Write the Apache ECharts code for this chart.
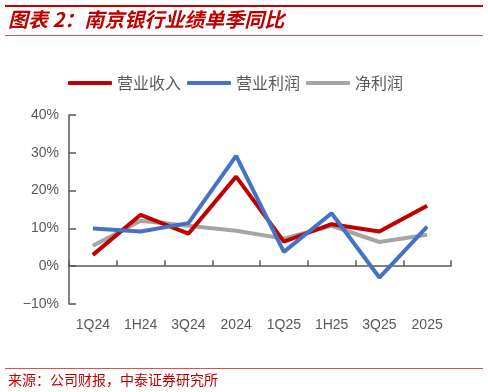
<!DOCTYPE html>
<html><head><meta charset="utf-8">
<script src="https://cdn.jsdelivr.net/npm/echarts@6/dist/echarts.min.js"></script>
<style>html,body{margin:0;padding:0;background:#fff}#c{width:488px;height:392px}</style>
</head><body><div id="c"></div>
<script>
var categories = ['1Q24','1H24','3Q24','2024','1Q25','1H25','3Q25','2025'];
var revenue = [3.0, 13.6, 8.6, 23.7, 6.5, 11.1, 9.2, 16.0];
var opProfit = [10.0, 9.2, 11.4, 29.2, 3.8, 14.0, -3.0, 10.5];
var netProfit = [5.4, 12.0, 10.7, 9.4, 7.3, 10.7, 6.4, 8.3];
var yTicks = [-10, 0, 10, 20, 30, 40];
var seriesNames = ['营业收入', '营业利润', '净利润'];
var colors = ['#C00000', '#4472C4', '#A5A5A5'];

var chart = echarts.init(document.getElementById('c'));
var font = '"Noto Sans CJK SC",sans-serif';
var mk = function(name, data, color){
  return {name:name, type:'line', data:data, symbol:'none', smooth:false,
    lineStyle:{width:4, color:color}, itemStyle:{color:color}, z:color==='#A5A5A5'?1:2};
};
chart.setOption({
  animation:false,
  textStyle:{fontFamily:font},
  graphic:[
    {type:'rect', shape:{x:5,y:5,width:478,height:2}, style:{fill:'#C00000'}},
    {type:'text', left:8, top:9, style:{text:'图表 2：南京银行业绩单季同比', fill:'#C00000', font:'italic bold 20px "Noto Sans CJK SC", sans-serif'}},
    {type:'rect', shape:{x:5,y:35,width:478,height:1}, style:{fill:'#D9534F'}},
    {type:'rect', shape:{x:5,y:368,width:478,height:1}, style:{fill:'#D9534F'}},
    {type:'text', left:8, top:373, style:{text:'来源：公司财报，中泰证券研究所', fill:'#C00000', font:'14px "Noto Sans CJK SC", serif'}}
  ],
  legend:{
    top:70, left:63, itemWidth:44, itemHeight:4, itemGap:6,
    icon:'roundRect',
    textStyle:{color:'#595959', fontSize:16, fontFamily:'"Noto Sans CJK SC", serif'},
    data:seriesNames
  },
  grid:{left:69, right:37, top:115, bottom:88, containLabel:false},
  xAxis:{
    type:'category', data:categories, boundaryGap:true,
    axisLine:{onZero:true, lineStyle:{color:'#595959', width:1.5}},
    axisTick:{show:true, inside:true, length:6, lineStyle:{color:'#595959', width:1.5}},
    axisLabel:{color:'#595959', fontSize:14, fontFamily:'Arial, "Liberation Sans", sans-serif', margin:14}
  },
  yAxis:{
    type:'value', min:yTicks[0], max:yTicks[yTicks.length-1], interval:10,
    axisLine:{show:true, lineStyle:{color:'#595959', width:1.5}},
    axisTick:{show:true, inside:true, length:7, lineStyle:{color:'#595959', width:1.5}},
    splitLine:{show:false},
    axisLabel:{color:'#595959', fontSize:14, fontFamily:'Arial, "Liberation Sans", sans-serif',
      formatter:function(v){return (v<0?'−'+Math.abs(v):v)+'%';}, margin:10}
  },
  series:[
    mk(seriesNames[0], revenue, colors[0]),
    mk(seriesNames[1], opProfit, colors[1]),
    mk(seriesNames[2], netProfit, colors[2])
  ]
});
</script></body></html>
